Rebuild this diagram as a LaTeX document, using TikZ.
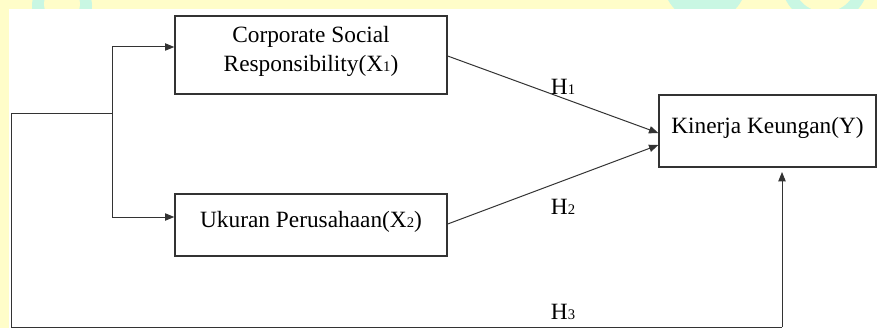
\documentclass[tikz,border=0pt]{standalone}
\usepackage{fontspec}
\setmainfont{Liberation Serif}
\usepackage{tikz}
\usetikzlibrary{arrows.meta}

\definecolor{bgyellow}{HTML}{FFFDC9}
\definecolor{bgcyan}{HTML}{C9F7E3}
\definecolor{linegray}{HTML}{333333}
\newcommand{\smalldig}[1]{{\fontsize{11}{11}\selectfont #1}}

\begin{document}
\begin{tikzpicture}[x=0.75pt,y=-0.75pt,
    box/.style={draw=linegray,line width=1pt,align=center,inner sep=0pt,
        font=\fontsize{17.5}{21.75}\selectfont,text height=12pt,text depth=9pt},
    arr/.style={draw=linegray,line width=0.75pt,-{Triangle[length=7pt,width=5.5pt]}},
    lin/.style={draw=linegray,line width=0.75pt},
    hyp/.style={font=\fontsize{17.5}{20}\selectfont,inner sep=0pt}]
    \useasboundingbox (0,0) rectangle (877,328);
    % background
    \fill[bgyellow] (0,0) rectangle (877,328);
    \begin{scope}
        \clip (0,0) rectangle (877,9);
        \fill[bgcyan] (62,6) circle (30);
        \fill[bgyellow] (62,4) circle (18);
        \fill[bgcyan] (705,-20) circle (42);
        \fill[bgcyan] (825,-20) circle (44);
        \fill[bgyellow] (825,-20) circle (32);
    \end{scope}
    \fill[white] (9,9) rectangle (877,328);

    \node[box,minimum width=204pt,minimum height=58.5pt,text height=33pt,text depth=7.5pt] (csr) at (311,55)
        {Corporate Social\\Responsibility(X\smalldig{1})};
    \node[box,minimum width=204pt,minimum height=46.5pt] (ukuran) at (311,225)
        {Ukuran Perusahaan(X\smalldig{2})};
    \node[box,minimum width=162.75pt,minimum height=54pt] (kinerja) at (767.5,131)
        {Kinerja Keungan(Y)};

    \coordinate (fork) at (112,113);
    \coordinate (loopTop) at (11,113);
    \coordinate (loopBot) at (11,327);
    \coordinate (h3Corner) at (782,327);
    \coordinate (h3Tip) at (782,172);

    \draw[arr] (fork) |- ([yshift=6pt]csr.west);
    \draw[arr] (fork) |- ([yshift=6pt]ukuran.west);
    \draw[lin] (fork) -- (loopTop) -- (loopBot) -- (h3Corner);
    \draw[arr] (h3Corner) -- (h3Tip);
    \draw[arr] ([yshift=-0.75pt]csr.east) -- ([yshift=-1.5pt]kinerja.west);
    \draw[arr] ([yshift=0.75pt]ukuran.east) -- ([yshift=-10.5pt]kinerja.west);

    \node[hyp] (hOne) at (563,87) {H\smalldig{1}};
    \node[hyp] (hTwo) at (563,207) {H\smalldig{2}};
    \node[hyp] (hThree) at (563,312) {H\smalldig{3}};
\end{tikzpicture}
\end{document}
